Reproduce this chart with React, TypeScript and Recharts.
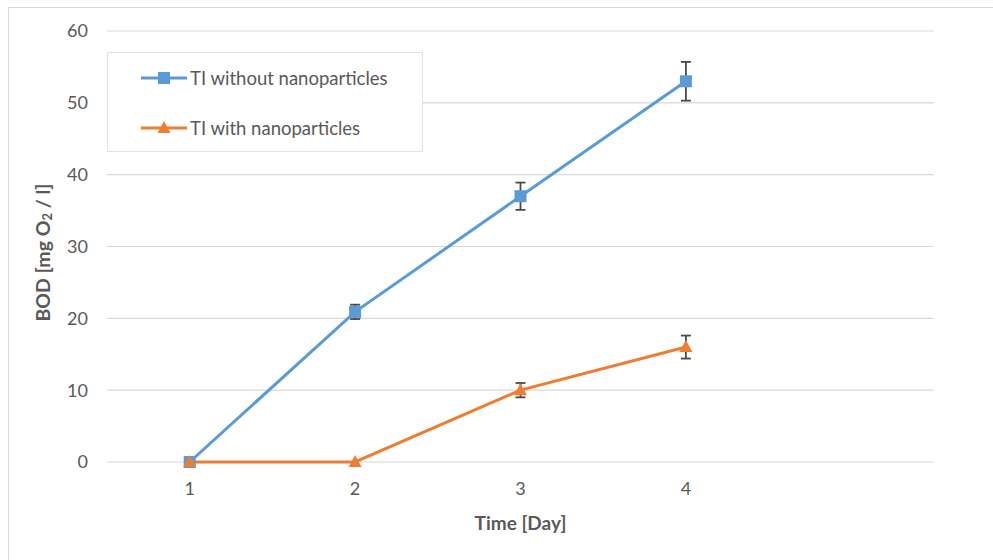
import React from "react";
import { LineChart, Line, XAxis, YAxis, CartesianGrid, ErrorBar, Legend, Label } from "recharts";

const categories = ["1", "2", "3", "4", ""];
const withoutNano = [0, 20.9, 37, 53, null];
const withoutNanoErr = [0, 1.0, 1.9, 2.7, null];
const withNano = [0, 0, 10, 16, null];
const withNanoErr = [0, 0, 1.0, 1.6, null];
const yTicks = [0, 10, 20, 30, 40, 50, 60];

const BLUE = "#5B9BD5";
const ORANGE = "#ED7D31";
const TEXT = "#595959";
const FONT = "Lato, 'Open Sans', sans-serif";

const data = categories.map((c, i) => ({
  cat: c,
  a: withoutNano[i],
  aErr: withoutNanoErr[i],
  b: withNano[i],
  bErr: withNanoErr[i],
}));

const Square = (props: any) => {
  const { cx, cy, index } = props;
  if (cx == null || cy == null || props.value == null) return <g key={`s${index}`} />;
  return <rect key={`s${index}`} x={cx - 6} y={cy - 6} width={12} height={12} fill={BLUE} />;
};

const Triangle = (props: any) => {
  const { cx, cy, index } = props;
  if (cx == null || cy == null || props.value == null) return <g key={`t${index}`} />;
  return (
    <polygon
      key={`t${index}`}
      points={`${cx},${cy - 7} ${cx + 6.5},${cy + 5} ${cx - 6.5},${cy + 5}`}
      fill={ORANGE}
    />
  );
};

const LegendBox = () => (
  <div
    style={{
      width: 314,
      height: 98,
      background: "#fff",
      border: "1px solid #e3e3e3",
      fontFamily: FONT,
      fontSize: 18.5,
      color: TEXT,
      position: "relative",
    }}
  >
    {[
      { label: "TI without nanoparticles", color: BLUE, shape: "square" },
      { label: "TI with nanoparticles", color: ORANGE, shape: "tri" },
    ].map((e, i) => (
      <div
        key={e.label}
        style={{ position: "absolute", left: 32, top: 13 + i * 50, height: 24, display: "flex", alignItems: "center" }}
      >
        <svg width={48} height={24} style={{ display: "block" }}>
          <line x1={1} y1={12} x2={47} y2={12} stroke={e.color} strokeWidth={3} />
          {e.shape === "square" ? (
            <rect x={18} y={6} width={12} height={12} fill={e.color} />
          ) : (
            <polygon points="24,5 30.5,17 17.5,17" fill={e.color} />
          )}
        </svg>
        <span style={{ marginLeft: 2, whiteSpace: "nowrap" }}>{e.label}</span>
      </div>
    ))}
  </div>
);

const YLabel = (props: any) => {
  const vb = props.viewBox || {};
  const cx = 42;
  const cy = vb.y + vb.height / 2 + 6;
  return (
    <text
      x={cx}
      y={cy}
      transform={`rotate(-90, ${cx}, ${cy})`}
      textAnchor="middle"
      dominantBaseline="central"
      fill={TEXT}
      fontFamily={FONT}
      fontWeight="bold"
      fontSize={19.5}
    >
      BOD [mg O
      <tspan fontSize={13} dy={5}>2</tspan>
      <tspan dy={-5}> / l]</tspan>
    </text>
  );
};

export default function App() {
  return (
    <div style={{ position: "fixed", left: 0, top: 0, width: 993, height: 560, overflow: "hidden", background: "#fff" }}>
      <div
        style={{
          position: "absolute",
          left: 8,
          top: 7,
          width: 1200,
          height: 800,
          border: "1px solid #d9d9d9",
        }}
      />
      <div style={{ position: "absolute", left: 0, top: 0 }}>
        <LineChart width={993} height={560} data={data} margin={{ top: 31, right: 59, bottom: 68, left: 27 }}>
          <CartesianGrid vertical={false} stroke="#d9d9d9" strokeWidth={1.2} />
          <XAxis
            dataKey="cat"
            scale="band"
            height={30}
            axisLine={false}
            tickLine={false}
            tickSize={0}
            tickMargin={20}
            tick={{ fill: TEXT, fontFamily: FONT, fontSize: 18 }}
            interval={0}
          >
            <Label
              value="Time [Day]"
              position="bottom"
              offset={25}
              fill={TEXT}
              fontFamily={FONT}
              fontWeight="bold"
              fontSize={19}
            />
          </XAxis>
          <YAxis
            width={80}
            domain={[0, 60]}
            ticks={yTicks}
            axisLine={false}
            tickLine={false}
            tickSize={0}
            tickMargin={19}
            tick={{ fill: TEXT, fontFamily: FONT, fontSize: 18 }}
            label={<YLabel />}
          />
          <Legend
            layout="vertical"
            verticalAlign="middle"
            align="center"
            content={<LegendBox />}
            wrapperStyle={{ left: 107, top: 52, width: 316, height: 100 }}
          />
          <Line
            type="linear"
            dataKey="a"
            name="TI without nanoparticles"
            stroke={BLUE}
            strokeWidth={3}
            dot={<Square />}
            activeDot={false}
            isAnimationActive={false}
          >
            <ErrorBar dataKey="aErr" width={5} stroke="#4a4a4a" strokeWidth={1.8} direction="y" />
          </Line>
          <Line
            type="linear"
            dataKey="b"
            name="TI with nanoparticles"
            stroke={ORANGE}
            strokeWidth={3}
            dot={<Triangle />}
            activeDot={false}
            isAnimationActive={false}
          >
            <ErrorBar dataKey="bErr" width={5} stroke="#4a4a4a" strokeWidth={1.8} direction="y" />
          </Line>
        </LineChart>
      </div>
    </div>
  );
}
